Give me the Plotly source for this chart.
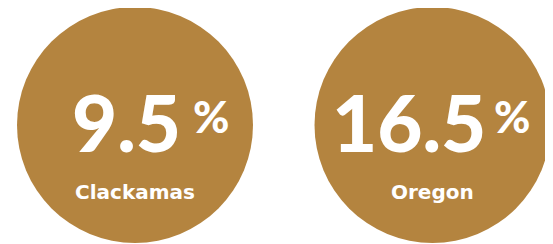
import plotly.graph_objects as go

regions = ["Clackamas", "Oregon"]
values = [9.5, 16.5]
value_labels = ["9.5", "16.5"]

color = "#B4843F"
x_pos = [0, 1]

fig = go.Figure()
fig.add_trace(go.Scatter(
    x=x_pos, y=[0, 0], mode="markers",
    marker=dict(size=236, color=color, line=dict(width=0)),
    hoverinfo="skip", showlegend=False,
))

num_offsets = [-9, -24]
pct_offsets = [76, 79]
for xp, lab, reg, no, po in zip(x_pos, value_labels, regions, num_offsets, pct_offsets):
    fig.add_annotation(x=xp, y=0, text=lab, showarrow=False,
                       xanchor="center", yanchor="middle", xshift=no, yshift=3,
                       font=dict(family="Lato", size=78, color="white", weight=900))
    fig.add_annotation(x=xp, y=0, text="%", showarrow=False,
                       xanchor="center", yanchor="middle", xshift=po, yshift=9,
                       font=dict(family="Lato", size=44, color="white", weight=900))
    fig.add_annotation(x=xp, y=0, text=f"<b>{reg}</b>", showarrow=False,
                       xanchor="center", yanchor="middle", yshift=-67,
                       font=dict(family="DejaVu Sans", size=20, color="white"))

# page body has an 8px margin; figure is sized/positioned to compensate
W, H = 545, 236
cx0, cy0 = 127, 117
scale = 297.5
fig.update_layout(
    width=W, height=H,
    margin=dict(l=0, r=0, t=0, b=0),
    paper_bgcolor="white", plot_bgcolor="white",
    xaxis=dict(range=[-cx0 / scale, (W - cx0) / scale], visible=False, fixedrange=True),
    yaxis=dict(range=[-(H - cy0), cy0], visible=False, fixedrange=True),
)
fig.write_html("out.html", config={"displayModeBar": False})
